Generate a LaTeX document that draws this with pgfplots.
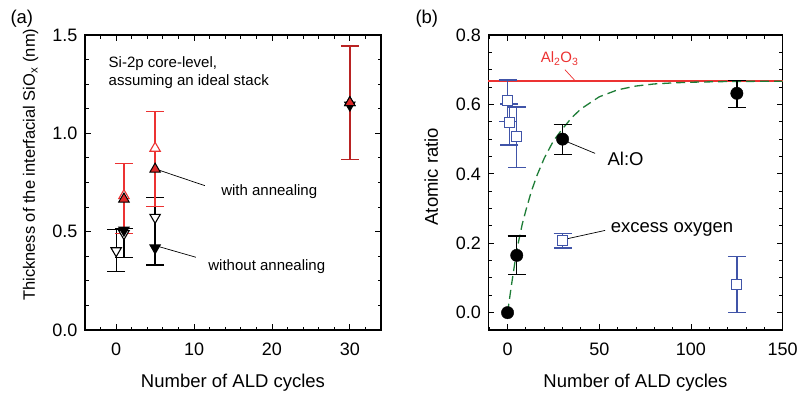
\documentclass[border=0pt]{standalone}
\usepackage{fontspec}
\setmainfont{Liberation Sans}
\usepackage{pgfplots}
\pgfplotsset{compat=1.18}
\definecolor{myred}{RGB}{236,50,50}
\definecolor{fillred}{RGB}{222,40,40}
\definecolor{darkred}{RGB}{185,35,35}
\definecolor{myblue}{RGB}{64,84,168}
\definecolor{mygreen}{RGB}{30,125,55}
\pgfplotsset{
  myaxis/.style={
    scale only axis, height=295pt,
    axis line style={line width=1.1pt},
    every tick/.style={black, line width=0.9pt},
    major tick length=6pt, minor tick length=3.5pt,
    tick align=inside,
    tick label style={font=\fontsize{18}{20}\selectfont},
    /pgf/number format/assume math mode=true,
    xticklabel style={yshift=-9pt},
    yticklabel style={xshift=-4pt,/pgf/number format/.cd, fixed, fixed zerofill, precision=1},
    every axis x label/.style={at={(axis description cs:0.5,0)}, anchor=base, yshift=-57pt, font=\fontsize{18.5}{20}\selectfont},
    clip=false,
  }
}
\begin{document}
\begin{tikzpicture}
% ---------------- panel (a)
\begin{axis}[myaxis,
  at={(85pt,67pt)}, anchor=south west, width=296pt,
  xmin=-4, xmax=34, ymin=0, ymax=1.5,
  xtick={0,10,20,30}, minor xtick={-4,-2,...,34},
  ytick={0,0.5,1.0,1.5}, minor ytick={0,0.125,...,1.5},
  xlabel={Number of ALD cycles},
  ylabel={Thickness of the interfacial SiO\textsubscript{x} (nm)},
  every axis y label/.style={at={(axis description cs:-0.169,0.56)}, rotate=90, anchor=base, font=\fontsize{16.5}{18}\selectfont},
]
\addplot[black, only marks, mark=triangle*, mark size=6pt,
  mark options={rotate=180, fill=white, draw=black, line width=1.1pt},
  error bars/.cd, y dir=both, y explicit,
  error bar style={draw=black, line width=1.3pt},
  error mark options={rotate=90, mark size=9pt, line width=1.3pt, draw=black}]
  coordinates {(0,0.403) += (0,0.109) -= (0,0.106)
               (1,0.49) += (0,0.025) -= (0,0.12)
               (5,0.573) += (0,0.102) -= (0,0.243)};
\addplot[myred, only marks, mark=triangle*, mark size=6pt,
  mark options={fill=white, draw=myred, line width=1.1pt},
  error bars/.cd, y dir=both, y explicit,
  error bar style={draw=myred, line width=1.3pt},
  error mark options={rotate=90, mark size=9pt, line width=1.3pt, draw=myred}]
  coordinates {(1,0.683) += (0,0.164) -= (0,0.193)
               (5,0.924) += (0,0.186) -= (0,0.297)};
\addplot[darkred, only marks, mark=triangle*, mark size=6pt,
  mark options={fill=fillred, draw=black, line width=1pt},
  error bars/.cd, y dir=both, y explicit,
  error bar style={draw=darkred, line width=1.5pt},
  error mark options={rotate=90, mark size=9pt, line width=1.5pt, draw=darkred}]
  coordinates {(30,1.156) += (0,0.289) -= (0,0.288)};
\addplot[black, only marks, mark=triangle*, mark size=6pt,
  mark options={rotate=180, fill=black, draw=black, line width=1pt}]
  coordinates {(1,0.508) (5,0.418) (30,1.144)};
\addplot[black, only marks, mark=triangle*, mark size=6pt,
  mark options={fill=fillred, draw=black, line width=1pt}]
  coordinates {(1,0.666) (5,0.818) (30,1.156)};
\node[anchor=base west, font=\fontsize{15}{17}\selectfont] at (axis cs:-1.41,1.333) {Si-2p core-level,};
\node[anchor=base west, font=\fontsize{15}{17}\selectfont] at (axis cs:-1.41,1.245) {assuming an ideal stack};
\node[anchor=base west, font=\fontsize{15}{17}\selectfont] at (axis cs:13.04,0.683) {with annealing};
\node[anchor=base west, font=\fontsize{15}{17}\selectfont] at (axis cs:11.39,0.305) {without annealing};
\draw[black, line width=0.7pt] (axis cs:5.48,0.813) -- (axis cs:11.39,0.734);
\draw[black, line width=0.7pt] (axis cs:5.48,0.424) -- (axis cs:10.23,0.370);
\end{axis}
% ---------------- panel (b)
\begin{axis}[myaxis,
  at={(488.3pt,67pt)}, anchor=south west, width=294.4pt,
  xmin=-10.5, xmax=150, ymin=-0.05, ymax=0.8,
  xtick={0,50,100,150}, minor xtick={-10,0,...,150},
  ytick={0,0.2,0.4,0.6,0.8}, minor ytick={-0.05,0,0.05,...,0.8},
  xlabel={Number of ALD cycles},
  ylabel={Atomic ratio},
  every axis y label/.style={at={(axis description cs:-0.171,0.52)}, rotate=90, anchor=base, font=\fontsize{18.5}{20}\selectfont},
]
\addplot[draw=myred, color=myred, mark=none, line width=1.4pt] coordinates {(-10.5,0.667) (150,0.667)};
\addplot[draw=mygreen, color=mygreen, mark=none, line width=1.3pt, dash pattern=on 9pt off 5pt] coordinates {
  (0,0.0) (2,0.075) (4,0.145) (6,0.205) (8,0.255) (10,0.295) (13,0.35) (16,0.395)
  (20,0.445) (25,0.495) (30,0.53) (35,0.562) (40,0.587) (50,0.622) (60,0.642)
  (70,0.653) (80,0.659) (90,0.662) (100,0.664) (120,0.666) (150,0.667)};
\addplot[myblue, only marks, mark=square*, mark size=5pt,
  mark options={fill=white, draw=myblue, line width=1.1pt},
  error bars/.cd, y dir=both, y explicit,
  error bar style={draw=myblue, line width=1.3pt},
  error mark options={rotate=90, mark size=9pt, line width=1.3pt, draw=myblue}]
  coordinates {(0,0.612) += (0,0.058) -= (0,0.062)
               (1,0.547) += (0,0.054) -= (0,0.064)
               (5,0.507) += (0,0.086) -= (0,0.089)
               (30,0.209) += (0,0.019) -= (0,0.023)
               (125,0.082) += (0,0.08) -= (0,0.082)};
\addplot[black, only marks, mark=*, mark size=6.2pt,
  error bars/.cd, y dir=both, y explicit,
  error bar style={draw=black, line width=1.3pt},
  error mark options={rotate=90, mark size=9pt, line width=1.3pt, draw=black}]
  coordinates {(5,0.165) += (0,0.056) -= (0,0.055)
               (30,0.5) += (0,0.043) -= (0,0.045)
               (125,0.632) += (0,0.037) -= (0,0.041)};
\addplot[black, only marks, mark=*, mark size=6.2pt] coordinates {(0,0)};
\node[anchor=base west, text=myred, font=\fontsize{15}{17}\selectfont] at (axis cs:16.2,0.72) {Al\textsubscript{2}O\textsubscript{3}};
\draw[myred, line width=0.7pt] (axis cs:31.3,0.700) -- (axis cs:37.2,0.666);
\node[anchor=base west, font=\fontsize{18.5}{20}\selectfont] at (axis cs:52.6,0.423) {Al:O};
\draw[black, line width=0.7pt] (axis cs:32.6,0.492) -- (axis cs:47.7,0.459);
\node[anchor=base west, font=\fontsize{18.5}{20}\selectfont] at (axis cs:54.4,0.232) {excess oxygen};
\draw[black, line width=0.7pt] (axis cs:32.6,0.213) -- (axis cs:53.2,0.237);
\end{axis}
\node[anchor=base west, font=\fontsize{18.5}{20}\selectfont] at (7pt,373pt) {(a)};
\node[anchor=base west, font=\fontsize{18.5}{20}\selectfont] at (412pt,373pt) {(b)};
\pgfresetboundingbox
\useasboundingbox (0pt,0pt) rectangle (802pt,397pt);
\end{tikzpicture}
\end{document}
